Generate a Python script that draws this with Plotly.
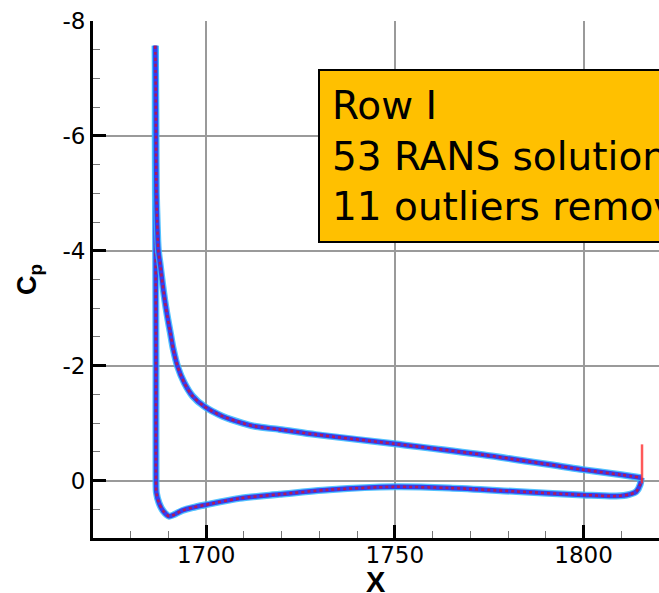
import plotly.graph_objects as go

# Pressure side (from trailing edge towards leading edge, then up the leading-edge spike)
x_lower = [1815.3, 1815.0, 1814.0, 1812.2, 1808.7, 1799.8, 1782.2, 1764.5, 1749.9, 1732.6,
           1719.4, 1708.8, 1700.0, 1696.4, 1693.7, 1690.2, 1688.6, 1687.5, 1686.8, 1686.7,
           1686.7, 1686.6, 1686.5, 1686.5]
cp_lower = [-0.05, 0.07, 0.19, 0.24, 0.27, 0.25, 0.19, 0.13, 0.11, 0.16,
            0.24, 0.31, 0.42, 0.47, 0.52, 0.62, 0.53, 0.39, 0.21, 0.00,
            -2.00, -4.00, -6.00, -7.57]

# Suction side (from suction peak towards trailing edge)
x_upper = [1686.5, 1686.6, 1686.7, 1686.8, 1687.0, 1687.3, 1687.8, 1688.4, 1689.0, 1689.7,
           1690.5, 1691.3, 1692.4, 1694.2, 1696.4, 1699.5, 1704.3, 1709.6, 1713.2, 1719.4,
           1729.1, 1749.9, 1773.3, 1799.8, 1810.0, 1815.3]
cp_upper = [-7.57, -7.00, -6.00, -5.00, -4.50, -4.02, -3.76, -3.44, -3.15, -2.86,
            -2.57, -2.28, -1.99, -1.70, -1.47, -1.29, -1.12, -1.00, -0.94, -0.89,
            -0.80, -0.64, -0.45, -0.19, -0.10, -0.05]

# Outlier spike at the trailing edge (red only)
x_te_spike = [1815.5, 1815.5]
cp_te_spike = [0.05, -0.63]

y_tickvals = [-8, -6, -4, -2, 0]
y_ticktext = ["-8", "-6", "-4", "-2", "0"]
x_tickvals = [1700, 1750, 1800]
x_ticktext = ["1700", "1750", "1800"]

box_lines = ["Row I", "53 RANS solutions", "11 outliers removed"]

fig = go.Figure()

for xs, ys in [(x_lower, cp_lower), (x_upper, cp_upper)]:
    fig.add_trace(go.Scatter(x=xs, y=ys, mode="lines",
                             line=dict(color="#35B8FF", width=7, shape="spline", smoothing=0.8),
                             opacity=0.85, hoverinfo="skip", showlegend=False))
    fig.add_trace(go.Scatter(x=xs, y=ys, mode="lines",
                             line=dict(color="#3636EE", width=4.5, shape="spline", smoothing=0.8),
                             opacity=0.95, hoverinfo="skip", showlegend=False))
    fig.add_trace(go.Scatter(x=xs, y=ys, mode="lines",
                             line=dict(color="#D81028", width=2.5, dash="dot", shape="spline", smoothing=0.8),
                             opacity=0.75, hoverinfo="skip", showlegend=False))

fig.add_trace(go.Scatter(x=x_te_spike, y=cp_te_spike, mode="lines",
                         line=dict(color="#FF3030", width=2.5), opacity=0.8,
                         hoverinfo="skip", showlegend=False))

axis_common = dict(
    showline=True, linecolor="black", linewidth=3,
    showgrid=True, gridcolor="#9a9a9a", gridwidth=1.5,
    ticks="inside", ticklen=13, tickwidth=3, tickcolor="black",
    zeroline=False,
    tickfont=dict(family="DejaVu Sans", size=23, color="black"),
)

fig.update_xaxes(range=[1670, 1820], tickvals=x_tickvals, ticktext=x_ticktext,
                 ticklabelstandoff=-6,
                 minor=dict(dtick=10, ticks="inside", ticklen=7, tickwidth=1.2,
                            tickcolor="#777777", showgrid=False),
                 **axis_common)
fig.update_yaxes(range=[1, -8], tickvals=y_tickvals, ticktext=y_ticktext,
                 minor=dict(dtick=0.5, ticks="inside", ticklen=7, tickwidth=1.2,
                            tickcolor="#777777", showgrid=False),
                 **axis_common)

fig.add_annotation(xref="paper", yref="paper", x=0, y=0.5, xshift=-64.5,
                   text="<b>C<sub>p</sub></b>", textangle=-90, showarrow=False,
                   xanchor="center", yanchor="middle",
                   font=dict(family="Liberation Sans", size=27, color="black"))
fig.add_annotation(xref="paper", yref="paper", x=0.5, y=0, yshift=-44,
                   text="<b>X</b>", showarrow=False,
                   xanchor="center", yanchor="middle",
                   font=dict(family="Liberation Sans", size=29, color="black"))

fig.add_annotation(xref="paper", yref="paper", x=(318 - 93) / 566, y=(538 - 69) / 517,
                   text="<br>".join(box_lines), showarrow=False, align="left",
                   xanchor="left", yanchor="top",
                   bgcolor="#FFC000", bordercolor="black", borderwidth=2, borderpad=12,
                   font=dict(family="DejaVu Sans", size=39, color="black"))

fig.update_layout(
    width=659, height=593,
    margin=dict(l=93, r=0, t=21, b=55),
    paper_bgcolor="white", plot_bgcolor="white",
)

fig.write_html("out.html")
